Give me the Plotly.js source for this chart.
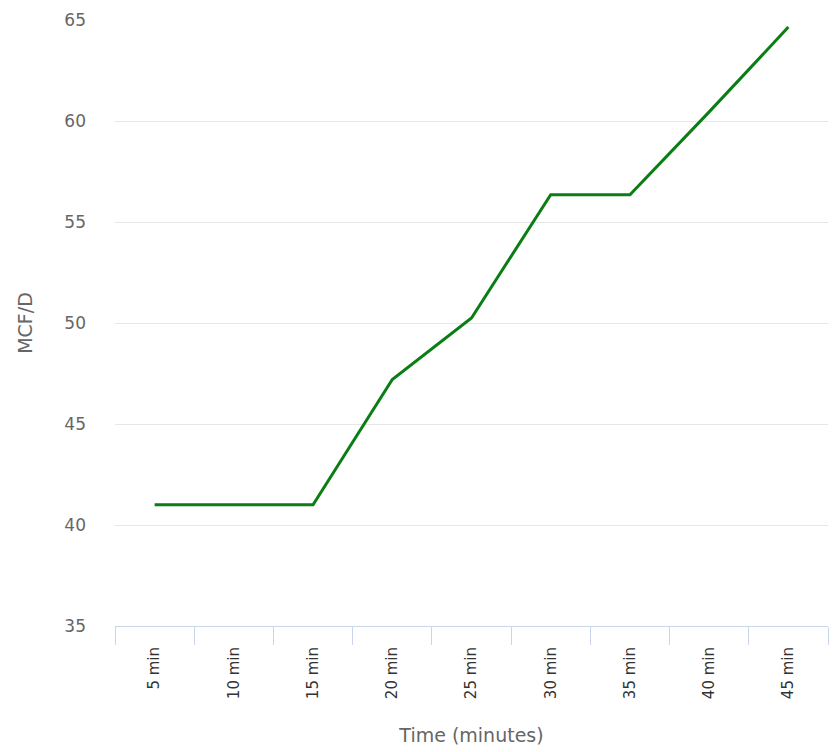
<!DOCTYPE html>
<html>
<head>
<meta charset="utf-8">
<script src="https://cdn.plot.ly/plotly-3.0.1.min.js"></script>
<style>body{margin:0;background:#fff}#chart{width:834px;height:752px}</style>
</head>
<body>
<div id="chart"></div>
<script>
// flow rate readings, one per category
const timeLabels = ["5 min", "10 min", "15 min", "20 min", "25 min", "30 min", "35 min", "40 min", "45 min"];
const flowValues = [41.0, 41.0, 41.0, 47.2, 50.25, 56.35, 56.35, 60.45, 64.65];

const trace = {
    x: timeLabels,
    y: flowValues,
    type: "scatter",
    mode: "lines",
    line: { color: "#0a7e14", width: 3 },
    hoverinfo: "x+y"
};

const layout = {
    width: 834,
    height: 752,
    margin: { l: 115, r: 6, t: 20, b: 126 },
    paper_bgcolor: "#fff",
    plot_bgcolor: "#fff",
    font: { family: "DejaVu Sans, sans-serif", size: 16, color: "#666666" },
    showlegend: false,
    xaxis: {
        type: "category",
        range: [-0.5, 8.5],
        tickson: "boundaries",
        ticks: "outside",
        ticklen: 18,
        tickcolor: "#ccd6eb",
        tickangle: -90,
        ticklabelstandoff: 14,
        showgrid: false,
        showline: true,
        linecolor: "#ccd6eb",
        linewidth: 1,
        tickfont: { size: 15, color: "#333333" },
        title: { text: "Time (minutes)", font: { size: 19, color: "#666666" }, standoff: 30 }
    },
    yaxis: {
        range: [35, 65],
        dtick: 5,
        showgrid: true,
        gridcolor: "#e6e6e6",
        zeroline: false,
        showline: false,
        ticks: "",
        ticklabelstandoff: 28,
        tickfont: { size: 17, color: "#666666" },
        title: { text: "MCF/D", font: { size: 19, color: "#666666" }, standoff: 26 }
    }
};

Plotly.newPlot("chart", [trace], layout, { displayModeBar: false, staticPlot: true });
</script>
</body>
</html>
